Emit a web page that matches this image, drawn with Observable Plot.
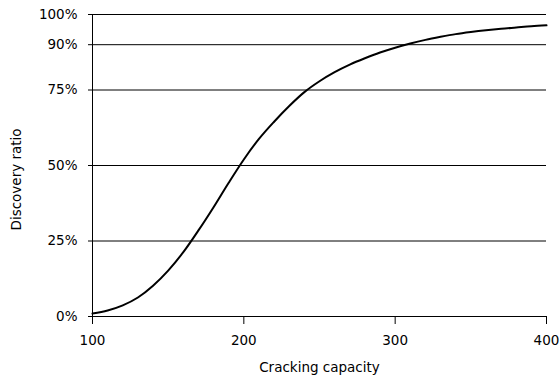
<!DOCTYPE html>
<html>
<head>
<meta charset="utf-8">
<script src="https://cdn.jsdelivr.net/npm/d3@7"></script>
<script src="https://cdn.jsdelivr.net/npm/@observablehq/plot@0.6"></script>
<style>
  html, body { margin: 0; padding: 0; background: #fff; }
</style>
</head>
<body>
<div id="chart"></div>
<script>
const capacity = [100, 110, 120, 130, 140, 150, 160, 170, 180, 190, 200, 210, 220, 230, 240, 250, 260, 270, 280, 290, 300, 310, 320, 330, 340, 350, 360, 370, 380, 390, 400];
const ratio = [1.0, 2.0, 3.7, 6.3, 10.2, 15.2, 21.3, 28.5, 36.2, 44.3, 52.0, 58.8, 64.5, 69.7, 74.3, 77.9, 80.9, 83.4, 85.5, 87.4, 89.0, 90.4, 91.6, 92.6, 93.5, 94.2, 94.8, 95.3, 95.7, 96.1, 96.4];
const yTicks = [0, 25, 50, 75, 90, 100];
const xTicks = [100, 200, 300, 400];
const xLabel = "Cracking capacity";
const yLabel = "Discovery ratio";

const data = capacity.map((c, i) => ({c, r: ratio[i]}));
const font = "DejaVu Sans";
const fs = 13.5;

const chart = Plot.plot({
  width: 560,
  height: 380,
  marginLeft: 92,
  marginRight: 14,
  marginTop: 14,
  marginBottom: 64,
  style: {fontFamily: font, fontSize: fs + "px", color: "#000", background: "#fff"},
  x: {domain: [100, 400], ticks: xTicks, tickSize: 8, tickPadding: 11, label: null},
  y: {domain: [0, 100], ticks: yTicks, tickSize: 4, tickPadding: 11, tickFormat: d => d + "%", label: null},
  marks: [
    Plot.ruleY(yTicks, {stroke: "#000", strokeWidth: 1}),
    Plot.ruleX([100], {y1: 0, y2: 100, stroke: "#000"}),
    Plot.line(data, {x: "c", y: "r", stroke: "#000", strokeWidth: 2, curve: "monotone-x"}),
    Plot.text([xLabel], {frameAnchor: "bottom", dy: 55, fontSize: fs, fill: "#000"}),
    Plot.text([yLabel], {frameAnchor: "left", dx: -76, dy: 65, rotate: -90, fontSize: fs, fill: "#000"})
  ]
});
document.getElementById("chart").appendChild(chart);
</script>
</body>
</html>
